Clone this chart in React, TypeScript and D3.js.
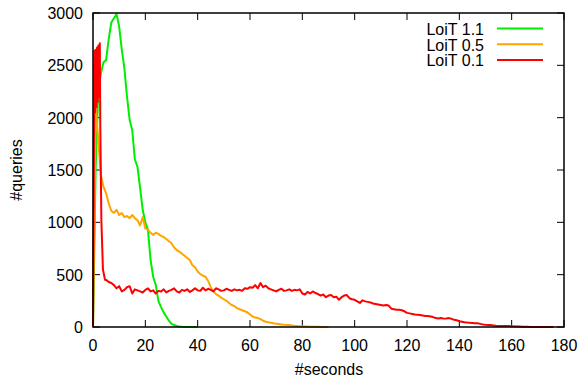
import React from "react";
import * as d3 from "d3";

// seconds -> #queries
const green11: number[] = [
  0, 1500, 2250, 2420, 2530, 2550, 2750, 2910, 2950, 2990,
  2870, 2650, 2470, 2200, 1980, 1880, 1600, 1530, 1330, 1120,
  1000, 930, 640, 480, 400, 250, 190, 140, 100, 60,
  30, 19, 10, 4, 2, 1, 1, 0, 0, 0, 0,
];

const orange05: number[] = [
  0, 2100, 1800, 1450, 1340, 1280, 1180, 1110, 1090, 1120,
  1070, 1090, 1050, 1060, 1040, 1070, 1040, 1020, 970, 1050,
  940, 930, 900, 880, 900, 890, 870, 860, 840, 820,
  800, 760, 735, 720, 700, 680, 660, 640, 590, 570,
  530, 505, 490, 480, 440, 380, 340, 315, 300, 280,
  265, 250, 230, 210, 200, 180, 170, 160, 150, 140,
  120, 100, 90, 85, 75, 60, 50, 45, 40, 35,
  30, 28, 25, 22, 20, 18, 15, 12, 10, 8,
  6, 5, 4, 3, 3, 2, 2, 1, 1, 0, 0,
];

// the first few seconds of LoiT 0.1 are sampled more finely
const red01Head: [number, number][] = [
  [0, 0], [0.55, 2640], [0.8, 2050], [1.05, 2650], [1.3, 2100],
  [1.55, 2670], [1.8, 2150], [2.05, 2690], [2.3, 2200], [2.6, 2710],
  [2.8, 1900], [3.2, 1020], [3.8, 550], [4.6, 450],
];

const red01: number[] = [
  450, 430, 420, 400, 370, 390, 340, 355, 380, 390,
  320, 360, 350, 340, 330, 355, 370, 340, 350, 320,
  345, 340, 360, 330, 345, 355, 370, 340, 330, 355,
  345, 360, 335, 350, 370, 350, 345, 375, 350, 365,
  355, 340, 370, 360, 345, 350, 365, 355, 345, 360,
  350, 355, 345, 370, 365, 380, 375, 400, 370, 420,
  380, 395, 370, 360, 350, 340, 355, 365, 345, 350,
  360, 345, 355, 350, 360, 320, 310, 335, 320, 340,
  325, 315, 300, 310, 285, 300, 305, 285, 290, 260,
  285, 300, 305, 275, 265, 260, 245, 230, 255, 245,
  240, 235, 225, 220, 215, 210, 205, 210, 205, 175,
  170, 165, 165, 160, 150, 135, 130, 125, 120, 118,
  115, 110, 105, 105, 100, 95, 85, 82, 85, 80,
  82, 85, 78, 70, 65, 55, 50, 45, 42, 40,
  38, 36, 35, 30, 25, 22, 20, 18, 15, 12,
  10, 10, 9, 10, 9, 8, 6, 5, 4, 3,
  2, 2, 1, 1, 1, 0, 0, 0, 0, 0, 0, 0,
];
const red01Start = 5;

const seriesNames = ["LoiT 1.1", "LoiT 0.5", "LoiT 0.1"];
const seriesColors = ["#00ee00", "#ffa500", "#ff0000"];
const xTicks = [0, 20, 40, 60, 80, 100, 120, 140, 160, 180];
const yTicks = [0, 500, 1000, 1500, 2000, 2500, 3000];

const W = 579;
const H = 381;
const m = { left: 93, right: 564, top: 13, bottom: 327 };
const font = "'Liberation Sans', Arial, sans-serif";

export default function App() {
  const x = d3.scaleLinear().domain([0, 180]).range([m.left, m.right]);
  const y = d3.scaleLinear().domain([0, 3000]).range([m.bottom, m.top]);
  const line = d3
    .line<[number, number]>()
    .x((d) => x(d[0]))
    .y((d) => y(d[1]));

  const series: [number, number][][] = [
    green11.map((v, i) => [i, v]),
    orange05.map((v, i) => [i, v]),
    [...red01Head, ...red01.map((v, i) => [i + red01Start, v] as [number, number])],
  ];

  const tick = 7;

  return (
    <svg
      width={W}
      height={H}
      style={{ position: "absolute", left: 0, top: 0, background: "#fff" }}
      fontFamily={font}
      fontSize={16}
    >
      {/* ticks on all four sides, pointing inward */}
      {xTicks.map((t) => (
        <g key={"x" + t} stroke="#000" strokeWidth={1}>
          <line x1={x(t)} x2={x(t)} y1={m.bottom} y2={m.bottom - tick} />
          <line x1={x(t)} x2={x(t)} y1={m.top} y2={m.top + tick} />
        </g>
      ))}
      {yTicks.map((t) => (
        <g key={"y" + t} stroke="#000" strokeWidth={1}>
          <line x1={m.left} x2={m.left + tick} y1={y(t)} y2={y(t)} />
          <line x1={m.right} x2={m.right - tick} y1={y(t)} y2={y(t)} />
        </g>
      ))}

      {xTicks.map((t) => (
        <text key={"xl" + t} x={x(t)} y={351} textAnchor="middle">
          {t}
        </text>
      ))}
      {yTicks.map((t) => (
        <text key={"yl" + t} x={83} y={y(t) + 6} textAnchor="end">
          {t}
        </text>
      ))}

      <text x={329} y={375} textAnchor="middle">#seconds</text>
      <text
        transform={`translate(22,170) rotate(-90)`}
        textAnchor="middle"
      >
        #queries
      </text>

      {series.map((s, i) => (
        <path
          key={seriesNames[i]}
          d={line(s) || ""}
          fill="none"
          stroke={seriesColors[i]}
          strokeWidth={2}
          strokeLinejoin="round"
        />
      ))}

      {/* legend */}
      {seriesNames.map((name, i) => {
        const ly = 28.5 + i * 15.8;
        return (
          <g key={"lg" + name}>
            <text x={484} y={ly + 6.3} textAnchor="end">
              {name}
            </text>
            <line x1={497} x2={543} y1={ly} y2={ly} stroke={seriesColors[i]} strokeWidth={2} />
          </g>
        );
      })}

      <rect
        x={m.left}
        y={m.top}
        width={m.right - m.left}
        height={m.bottom - m.top}
        fill="none"
        stroke="#000"
        strokeWidth={1.5}
      />
    </svg>
  );
}
